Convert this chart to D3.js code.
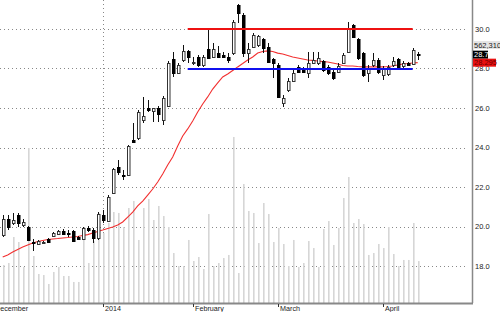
<!DOCTYPE html>
<html>
<head>
<meta charset="utf-8">
<script src="https://cdn.jsdelivr.net/npm/d3@7"></script>
<style>
  body { margin: 0; background: #fff; }
  text { font-family: Arial, 'Liberation Sans', sans-serif; }
</style>
</head>
<body>
<div id="chart-area"></div>
<script>
// daily candles, dec 2013 -> apr 2014
let opens = [19.57,20.38,20.18,20.58,20.08,19.97,19.20,19.11,19.21,19.37,
  19.52,19.62,19.77,19.68,19.77,19.47,19.37,19.92,19.82,19.42,
  20.58,20.28,21.70,23.01,22.63,22.61,24.38,24.48,25.39,26.00,
  25.85,26.00,25.39,26.10,28.48,27.77,28.43,28.89,28.28,28.58,
  28.18,28.99,28.58,28.78,28.68,28.58,28.78,31.22,30.71,28.78,
  29.09,29.19,29.49,29.09,28.48,28.18,26.25,26.91,27.37,28.08,
  28.03,27.77,28.28,28.28,28.38,28.08,27.82,27.82,28.28,28.84,
  30.20,29.49,28.78,27.77,28.18,28.43,27.67,27.72,28.18,28.48,
  28.13,28.28,28.23,28.75];
let highs = [20.58,20.58,20.68,20.68,20.38,20.02,19.37,19.32,19.27,19.40,
  19.72,19.82,19.87,19.82,19.82,19.50,19.97,20.02,19.92,20.73,
  20.83,21.59,22.96,23.37,22.86,24.13,25.24,25.90,26.56,26.40,
  26.02,26.10,26.61,28.38,28.84,28.28,29.19,28.94,28.58,28.68,
  28.68,30.05,29.29,29.14,28.84,28.78,30.46,31.25,30.81,29.29,
  29.80,29.70,29.54,29.29,28.53,28.28,26.66,27.52,27.92,28.18,
  28.08,28.84,28.84,28.84,28.43,28.18,27.97,28.28,28.78,30.35,
  30.25,29.54,28.84,28.18,28.78,28.53,28.13,28.18,28.58,28.53,
  28.38,28.33,29.04,28.86];
let lows = [19.47,19.82,20.08,19.97,19.97,19.27,18.76,19.06,19.16,19.18,
  19.50,19.60,19.57,19.47,19.22,19.32,19.32,19.72,19.16,19.32,
  20.18,20.23,21.65,22.61,22.35,22.56,24.25,24.38,25.24,25.80,
  25.29,25.29,25.14,26.05,27.57,27.72,28.33,28.28,28.18,28.08,
  28.08,28.50,28.53,28.53,28.53,28.28,28.68,30.30,28.58,28.28,
  29.04,29.09,28.78,28.28,27.52,26.51,26.05,26.81,27.32,27.77,
  27.77,27.52,28.23,28.18,27.82,27.67,27.42,27.77,28.23,28.78,
  29.54,28.43,27.57,27.32,28.08,27.72,27.42,27.62,28.08,28.03,
  28.03,28.13,28.18,28.43];
let closes = [20.38,19.97,20.33,20.18,20.23,19.32,19.18,19.27,19.23,19.22,
  19.67,19.77,19.62,19.66,19.27,19.37,19.92,19.82,19.42,20.63,
  20.33,21.49,22.91,22.76,22.61,24.08,24.30,25.80,25.59,25.90,
  26.00,25.70,26.51,28.28,27.77,28.18,28.89,28.58,28.33,28.18,
  28.58,28.53,28.99,28.58,28.58,28.43,30.35,30.81,28.78,28.99,
  29.70,29.65,29.04,28.33,28.28,26.56,26.51,27.37,27.77,27.82,
  27.82,28.28,28.43,28.53,27.92,27.77,27.52,28.13,28.68,30.00,
  29.59,28.53,27.67,28.03,28.43,27.82,28.03,28.08,28.38,28.08,
  28.28,28.18,28.94,28.70];
// volume in thousands
let volumes = [510,536,885,818,483,2078,630,389,375,255,
  416,483,362,362,282,282,1019,536,831,1207,
  939,1073,1220,1207,1019,1274,1368,845,1274,1394,
  1113,1301,1166,1019,670,496,496,845,563,617,
  456,1193,496,536,603,644,2226,402,1596,1234,
  1207,804,1341,1193,818,1006,791,496,845,483,
  536,831,737,483,992,1099,778,1006,1408,1689,
  1073,1126,1059,644,670,791,737,1019,657,496,
  577,577,1073,562.31];
// moving average (red)
let movAvg = [18.46,18.56,18.71,18.84,18.96,19.06,19.16,19.24,19.29,19.34,
  19.37,19.39,19.42,19.44,19.47,19.49,19.54,19.59,19.67,19.75,
  19.82,19.90,19.97,20.08,20.23,20.48,20.73,21.04,21.29,21.59,
  21.90,22.25,22.66,23.11,23.52,24.08,24.58,24.94,25.34,25.80,
  26.20,26.56,26.96,27.27,27.57,27.72,27.90,28.08,28.25,28.43,
  28.58,28.78,28.86,28.89,28.86,28.78,28.73,28.66,28.58,28.53,
  28.48,28.43,28.41,28.38,28.35,28.33,28.28,28.23,28.15,28.13,
  28.13,28.10,28.08,28.08,28.08,28.08,28.08,28.10,28.13,28.18,
  28.23,28.25,28.28,28.295];

let monthLabels = ['December', '2014', 'February', 'March', 'April'];
let monthStart = [-2, 20, 38, 55, 76];
let yearStart = [20];

let priceTicks = [18, 20, 22, 24, 26, 28, 30];
let resistance = 30.0, support = 28.0;
let levelFrom = 37, levelTo = 82;

let lastVolume = '562,310';
let lastClose = '28.7';
let lastAvg = '28.295';

let width = 500, height = 312;
let plotRight = 472, plotBottom = 303;

let svg = d3.select('#chart-area').append('svg')
  .attr('width', width)
  .attr('height', height);

svg.append('rect').attr('width', width).attr('height', height).attr('fill', '#fff');

let x = d3.scaleLinear().domain([0, opens.length - 1]).range([2.7, 417.7]);
let y = d3.scaleLinear().domain([18, 30]).range([266, 29]);
let yVol = d3.scaleLinear().domain([0, 2400]).range([plotBottom, 124]);

let px = i => Math.round(x(i));

// grid
let grid = svg.append('g').attr('class', 'grid');
grid.selectAll('line.h')
  .data(priceTicks)
  .enter()
  .append('line')
  .attr('class', 'h')
  .attr('x1', 0)
  .attr('x2', 468)
  .attr('y1', d => Math.round(y(d)) + 0.5)
  .attr('y2', d => Math.round(y(d)) + 0.5)
  .attr('stroke', '#888')
  .attr('stroke-dasharray', '1,3');

grid.selectAll('line.v')
  .data(yearStart)
  .enter()
  .append('line')
  .attr('class', 'v')
  .attr('x1', d => px(d) + 0.5)
  .attr('x2', d => px(d) + 0.5)
  .attr('y1', 0)
  .attr('y2', plotBottom)
  .attr('stroke', '#888')
  .attr('stroke-dasharray', '1,3');

// volume
svg.append('g').selectAll('rect')
  .data(volumes)
  .enter()
  .append('rect')
  .attr('x', (d, i) => px(i))
  .attr('width', 1.6)
  .attr('y', d => yVol(d))
  .attr('height', d => plotBottom - yVol(d))
  .attr('fill', '#d6d6d6');

// moving average
let maLine = d3.line()
  .x((d, i) => x(i))
  .y(d => y(d));
svg.append('path')
  .datum(movAvg)
  .attr('d', maLine)
  .attr('fill', 'none')
  .attr('stroke', '#f23030')
  .attr('stroke-width', 1.1);

// candles
let candles = svg.append('g').selectAll('g')
  .data(opens)
  .enter()
  .append('g');

candles.append('line')
  .attr('x1', (d, i) => px(i) + 0.5)
  .attr('x2', (d, i) => px(i) + 0.5)
  .attr('y1', (d, i) => Math.round(y(highs[i])))
  .attr('y2', (d, i) => Math.round(y(lows[i])))
  .attr('stroke', '#111');

candles.append('rect')
  .attr('x', (d, i) => px(i) - 0.5)
  .attr('width', 2.5)
  .attr('y', (d, i) => Math.round(y(Math.max(d, closes[i]))) + 0.5)
  .attr('height', (d, i) => Math.max(1, Math.round(Math.abs(y(d) - y(closes[i])))))
  .attr('fill', (d, i) => closes[i] >= d ? '#fff' : '#000')
  .attr('stroke', (d, i) => closes[i] >= d ? '#333' : '#000');

// support / resistance
svg.append('line')
  .attr('x1', x(levelFrom)).attr('x2', x(levelTo))
  .attr('y1', y(resistance)).attr('y2', y(resistance))
  .attr('stroke', '#ee1111').attr('stroke-width', 2);
svg.append('line')
  .attr('x1', x(levelFrom)).attr('x2', x(levelTo))
  .attr('y1', y(support) + 0.5).attr('y2', y(support) + 0.5)
  .attr('stroke', '#1010ee').attr('stroke-width', 2);

// axes frame
svg.append('line')
  .attr('x1', 0).attr('x2', plotRight + 1)
  .attr('y1', plotBottom + 0.5).attr('y2', plotBottom + 0.5)
  .attr('stroke', '#888').attr('stroke-width', 2);
svg.append('line')
  .attr('x1', plotRight + 0.5).attr('x2', plotRight + 0.5)
  .attr('y1', 0).attr('y2', plotBottom)
  .attr('stroke', '#888').attr('stroke-width', 1.5);

// price labels on the right
svg.append('g').selectAll('text')
  .data(priceTicks)
  .enter()
  .append('text')
  .attr('x', 475)
  .attr('y', d => y(d))
  .attr('dy', '0.36em')
  .attr('font-size', 7.5)
  .attr('fill', '#222')
  .text(d => d.toFixed(1));

// month labels
let months = svg.append('g');
months.selectAll('line')
  .data(monthStart)
  .enter()
  .append('line')
  .attr('x1', d => px(d) + 0.5)
  .attr('x2', d => px(d) + 0.5)
  .attr('y1', plotBottom + 1)
  .attr('y2', plotBottom + 4)
  .attr('stroke', '#333');
months.selectAll('text')
  .data(monthLabels)
  .enter()
  .append('text')
  .attr('x', (d, i) => px(monthStart[i]) + 2)
  .attr('y', 310.5)
  .attr('font-size', 7.2)
  .attr('fill', '#222')
  .text(d => d);

// last value tags
svg.append('rect').attr('x', 473).attr('y', 41).attr('width', 27).attr('height', 8).attr('fill', '#e4e4e4');
svg.append('text').attr('x', 474).attr('y', 47.5).attr('font-size', 7.5).attr('fill', '#222').text(lastVolume);

svg.append('rect').attr('x', 473).attr('y', y(+lastClose) - 4).attr('width', 15).attr('height', 8).attr('fill', '#000');
svg.append('text').attr('x', 474).attr('y', y(+lastClose)).attr('dy', '0.36em')
  .attr('font-size', 7.5).attr('fill', '#fff').text(lastClose);

svg.append('rect').attr('x', 473).attr('y', y(+lastAvg) - 4).attr('width', 23).attr('height', 8).attr('fill', '#e81010');
svg.append('text').attr('x', 474).attr('y', y(+lastAvg)).attr('dy', '0.36em')
  .attr('font-size', 7.5).attr('fill', '#6a0000').text(lastAvg);
</script>
</body>
</html>
